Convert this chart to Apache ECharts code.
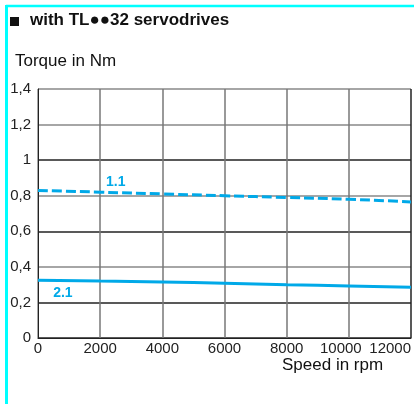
<!DOCTYPE html>
<html><head><meta charset="utf-8">
<script src="https://cdn.jsdelivr.net/npm/echarts@6/dist/echarts.min.js"></script>
<style>html,body{margin:0;padding:0;background:#fff}#c{width:414px;height:405px}</style>
</head><body><div id="c"></div>
<script>
const speeds = [0, 2000, 4000, 6000, 8000, 10000, 12000];
const torque11 = [0.83, 0.82, 0.81, 0.80, 0.79, 0.78, 0.765];
const torque21 = [0.325, 0.32, 0.315, 0.308, 0.30, 0.293, 0.285];
const yTicks = [0, 0.2, 0.4, 0.6, 0.8, 1, 1.2, 1.4];
const curveNames = ['1.1', '2.1'];
const labelPos = [[2500, 0.875], [800, 0.252]];

const blue = '#00A9E8';
const FONT = 'Liberation Sans, Arial, sans-serif';
const chart = echarts.init(document.getElementById('c'));
const pairs = (xs, ys) => xs.map((x, i) => [x, ys[i]]);
const curveLabel = (name, pos) => ({
  symbol: 'circle', symbolSize: 1, itemStyle: { color: 'rgba(0,0,0,0)' },
  label: { show: true, position: 'inside', formatter: name, color: blue, fontWeight: 'bold', fontSize: 14, fontFamily: FONT },
  data: [{ coord: pos }]
});
chart.setOption({
  animation: false,
  textStyle: { fontFamily: FONT },
  grid: { left: 38, right: 3, top: 89, bottom: 67 },
  xAxis: {
    type: 'value', min: 0, max: 12000, interval: 2000,
    axisLine: { lineStyle: { color: '#222', width: 1 } },
    axisTick: { show: false },
    axisLabel: { color: '#222', fontSize: 15, margin: 3, alignMaxLabel: 'right',
      formatter: v => v === 10000 ? '{s|' + v + '}' : String(v),
      rich: { s: { fontSize: 15, color: '#222', padding: [0, 16, 0, 0] } } },
    splitLine: { show: true, lineStyle: { color: ['#888', '#777', '#777', '#777', '#777', '#777', '#222'], width: 1.5 } }
  },
  yAxis: {
    type: 'value', min: 0, max: 1.4, interval: 0.2,
    axisLine: { show: true, lineStyle: { color: '#222', width: 1 } },
    axisTick: { show: false },
    axisLabel: { color: '#222', fontSize: 15, margin: 7,
      formatter: v => String(+v.toFixed(1)).replace('.', ',') },
    splitLine: { show: true, lineStyle: { color: ['#222', '#222', '#888', '#222', '#888', '#222', '#888', '#888'], width: 1.5 } }
  },
  series: [
    { name: curveNames[0], type: 'line', data: pairs(speeds, torque11), symbol: 'none', smooth: true,
      lineStyle: { color: blue, width: 3, type: [10, 4] },
      markPoint: curveLabel(curveNames[0], labelPos[0]) },
    { name: curveNames[1], type: 'line', data: pairs(speeds, torque21), symbol: 'none', smooth: true,
      lineStyle: { color: blue, width: 3 },
      markPoint: curveLabel(curveNames[1], labelPos[1]) }
  ],
  graphic: [
    { type: 'line', shape: { x1: 6, y1: 6, x2: 414, y2: 6 }, style: { stroke: '#00FFFF', lineWidth: 2.5 } },
    { type: 'line', shape: { x1: 6.5, y1: 5, x2: 6.5, y2: 404 }, style: { stroke: '#00FFFF', lineWidth: 3 } },
    { type: 'rect', shape: { x: 10, y: 17, width: 9, height: 9 }, style: { fill: '#111' } },
    { type: 'text', left: 30, top: 12, style: { text: 'with TL●●32 servodrives', font: 'bold 17px ' + FONT, fill: '#111' } },
    { type: 'text', left: 15, top: 53, style: { text: 'Torque in Nm', font: '17px ' + FONT, fill: '#111' } },
    { type: 'text', left: 282, top: 357, style: { text: 'Speed in rpm', font: '17px ' + FONT, fill: '#111' } }
  ]
});
</script></body></html>
